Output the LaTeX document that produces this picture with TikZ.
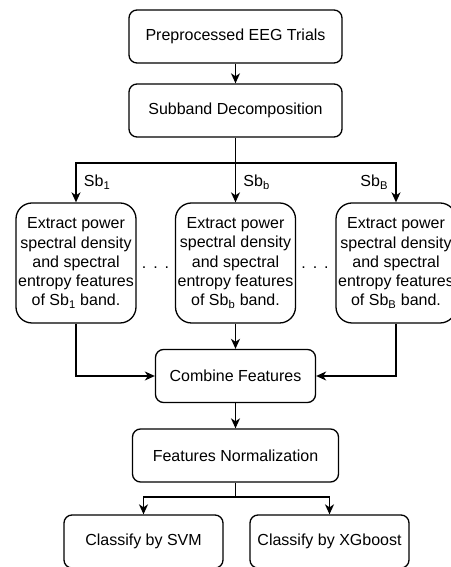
\documentclass[tikz,border=0pt]{standalone}
\usepackage{fontspec}
\setmainfont{Liberation Sans}
\usepackage{tikz}
\usetikzlibrary{arrows.meta}

\begin{document}
\begin{tikzpicture}[x=1pt, y=1pt, line width=1.3pt,
        font=\fontsize{16}{19.2}\selectfont,
        every text node part/.style={align=center},
        stepbox/.style={draw, rounded corners=8pt, inner sep=0pt, minimum height=53pt},
        bandbox/.style={draw, rounded corners=16pt, inner sep=0pt, minimum width=120pt, minimum height=120pt},
        flow/.style={-{Stealth[length=10pt, width=9pt, inset=3pt]}}]
            \useasboundingbox (0, 0) rectangle (450, 567);

            \node[stepbox, minimum width=213pt] (prep) at (235.5, 530.5) {Preprocessed EEG Trials};
            \node[stepbox, minimum width=213pt] (sub) at (235.5, 456.5) {Subband Decomposition};

            \node[bandbox] (ext1) at (76, 304) {Extract power\\spectral density\\and spectral\\entropy features\\of Sb\textsubscript{1} band.};
            \node[bandbox] (ext2) at (235.5, 304) {Extract power\\spectral density\\and spectral\\entropy features\\of Sb\textsubscript{b} band.};
            \node[bandbox] (ext3) at (396, 304) {Extract power\\spectral density\\and spectral\\entropy features\\of Sb\textsubscript{B} band.};
            \node (dots1) at (155.5, 299) {.\hspace{7pt}.\hspace{7pt}.};
            \node (dots2) at (315, 299) {.\hspace{7pt}.\hspace{7pt}.};

            \node[stepbox, minimum width=160pt] (comb) at (235.5, 191) {Combine Features};
            \node[stepbox, minimum width=206pt] (norm) at (235.5, 111.5) {Features Normalization};
            \node[stepbox, minimum width=159pt] (svm) at (143.5, 25.5) {Classify by SVM};
            \node[stepbox, minimum width=159pt] (xgb) at (329.5, 25.5) {Classify by XGboost};

            \draw[flow] (prep) -- (sub);
            \draw (sub.south) -- (235.5, 404) coordinate (split);
            \draw[flow] (split) -| (ext1.north);
            \draw[flow] (split) -- (ext2.north);
            \draw[flow] (split) -| (ext3.north);
            \node[anchor=west] (l1) at (80, 385) {Sb\textsubscript{1}};
            \node[anchor=west] (l2) at (239.5, 385) {Sb\textsubscript{b}};
            \node[anchor=east] (l3) at (392, 385) {Sb\textsubscript{B}};

            \draw[flow] (ext1.south) |- (comb.west);
            \draw[flow] (ext2) -- (comb);
            \draw[flow] (ext3.south) |- (comb.east);
            \draw[flow] (comb) -- (norm);

            \draw (norm.south) -- (235.5, 70) coordinate (fork);
            \draw[flow] (fork) -| (svm.north);
            \draw[flow] (fork) -| (xgb.north);
        \end{tikzpicture}
\end{document}
